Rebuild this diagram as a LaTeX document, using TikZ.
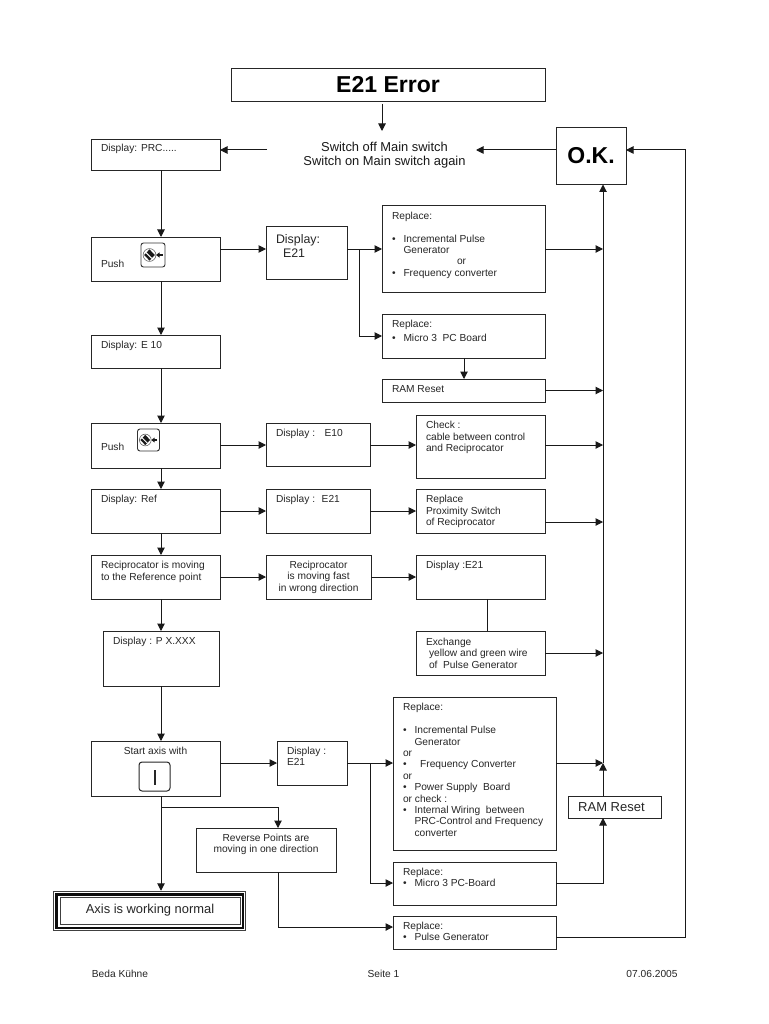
\documentclass[tikz,border=0pt]{standalone}
\usepackage{fontspec}
\setmainfont{Liberation Sans}
\usetikzlibrary{arrows.meta}
\tikzset{
  x=1pt,y=-1pt,
  boxst/.style={draw=black!85,line width=1pt,inner sep=0pt,outer sep=0pt},
  link/.style={draw=black!90,line width=1pt},
  arr/.style={link,-{Triangle[length=7.5pt,width=7.5pt]}},
  plain/.style={inner sep=0pt,font=\fontsize{10.2}{11.4}\selectfont,align=left,text=black!85}
}
% \bx{name}{x1}{y1}{x2}{y2}{left inset}{top inset}{text}
\newcommand{\bx}[8]{%
  \pgfmathsetmacro{\bw}{#4-#2}\pgfmathsetmacro{\bh}{#5-#3}%
  \pgfmathsetmacro{\cx}{(#2+#4)/2}\pgfmathsetmacro{\cy}{(#3+#5)/2}%
  \node[boxst,minimum width=\bw pt,minimum height=\bh pt] (#1) at (\cx,\cy)
    {\parbox[c][\bh pt][t]{\bw pt}{\fontsize{10.2}{11.4}\selectfont\color{black!85}\leftskip=#6pt\parindent=0pt\rightskip=0pt plus 1fil\vspace*{#7pt}#8\par}};}
\newcommand{\dotitem}{\hbox to 11.5pt{•\hss}}
\newcommand{\keyicon}[4]{% name, cx, cy, size
  \node[draw=black!80,line width=0.9pt,rounded corners=2.5pt,minimum size=#4 pt,inner sep=0pt] (#1) at (#2,#3) {};
  \begin{scope}[shift={(#2,#3)},scale=#4/24]
    \draw[black!60,line width=0.6pt] (-3.5,0) circle (6.4);
    \fill[black!90] (-3.5,-5.6) -- (1.8,0) -- (-3.5,5.6) -- (-8.8,0) -- cycle;
    \draw[white,line width=1pt] (-7,-2.4) -- (-1.2,3.4);
    \draw[black!90,line width=1.2pt] (9.5,0) -- (5,0);
    \fill[black!90] (3,0) -- (6.6,-2.7) -- (6.6,2.7) -- cycle;
  \end{scope}}
\begin{document}
\begin{tikzpicture}
\useasboundingbox[fill=white] (0,0) rectangle (768,1024);

% boxes
\node[boxst,minimum width=314pt,minimum height=33pt,font=\fontsize{23}{25}\bfseries\selectfont] (title) at (388,85) {E21 Error};
\node[boxst,minimum width=70pt,minimum height=57pt,font=\fontsize{23}{25}\bfseries\selectfont] (ok) at (591,156) {\raisebox{2pt}{O.K.}};
\node[inner sep=0pt,align=center,text=black!90,font=\fontsize{12.9}{14.2}\selectfont] (sw) at (384.5,155.5) {Switch off Main switch\\Switch on Main switch again};

\bx{prc}{91}{139.5}{220}{170.5}{10}{4.5}{Display: PRC.....}
\bx{push1}{91}{237}{220}{281}{10}{23}{Push}
\bx{d21a}{266}{226.5}{347}{279.5}{10}{8}{\fontsize{12.4}{14}\selectfont Display:\\\hspace*{7pt}E21}
\bx{rep1}{382}{205.5}{545}{292.5}{10}{6.5}{Replace:\\[11.4pt]\dotitem Incremental Pulse\\\hspace*{11.5pt}Generator\\\hspace*{65pt}or\\\dotitem Frequency converter}
\bx{rep2}{382}{314}{545}{358}{10}{6}{Replace:\\[2.5pt]\dotitem Micro 3~ PC Board}
\bx{ram1}{382}{379}{545}{402}{10}{6.5}{RAM Reset}
\bx{e10}{91}{335}{220}{368}{10}{6.5}{Display: E 10}
\bx{push2}{91}{423}{220}{468}{10}{20}{Push}
\bx{de10}{266}{423}{370}{466}{10}{6}{Display :~~ E10}
\bx{check}{416}{415}{545}{478}{10}{6.5}{Check :\\cable between control\\and Reciprocator}
\bx{ref}{91}{489}{220}{533}{10}{6}{Display: Ref}
\bx{de21}{266}{489}{370}{533}{10}{6}{Display :~ E21}
\bx{prox}{416}{489}{545}{533}{10}{6.5}{Replace\\Proximity Switch\\of Reciprocator}
\bx{recip}{91}{555}{220}{599}{10}{6}{Reciprocator is moving\\[1.2pt]to the Reference point}
\node[boxst,minimum width=105pt,minimum height=44pt,font=\fontsize{10.2}{11.4}\selectfont,align=center,text=black!85] (fast) at (318.5,577) {Reciprocator\\is moving fast\\in wrong direction};
\bx{dis}{416}{555}{545}{599}{10}{6}{Display :E21}
\bx{exch}{416}{631}{545}{675}{10}{7}{Exchange\\\hspace*{3pt}yellow and green wire\\\hspace*{3pt}of~ Pulse Generator}
\bx{disp}{103}{631}{219}{686}{10}{6}{Display : P X.XXX}
\node[boxst,minimum width=129pt,minimum height=55pt] (start) at (155.5,768.5) {};
\node[plain,align=center] (starttxt) at (155.5,750.5) {Start axis with};
\bx{d21b}{277}{741}{347}{785}{10}{6}{Display :\\E21}
\bx{repb}{393}{697}{556}{850}{10}{6.5}{Replace:\\[11.4pt]\dotitem Incremental Pulse\\\hspace*{11.5pt}Generator\\or\\\dotitem~ Frequency Converter\\or\\\dotitem Power Supply~ Board\\or check :\\\dotitem Internal Wiring~ between\\\hspace*{11.5pt}PRC-Control and Frequency\\\hspace*{11.5pt}converter}
\bx{micro}{393}{862}{556}{905}{10}{6}{Replace:\\\dotitem Micro 3 PC-Board}
\bx{pulse}{393}{916}{556}{949}{10}{6}{Replace:\\\dotitem Pulse Generator}
\node[boxst,minimum width=93pt,minimum height=22pt] (ram2) at (614.5,807) {};
\node[plain,font=\fontsize{13}{14}\selectfont,anchor=west] (ram2txt) at (578,807.5) {RAM Reset};
\node[boxst,minimum width=140pt,minimum height=44pt] (rev) at (266,850) {};
\node[plain,align=center] (revtxt) at (266,844.5) {Reverse Points are\\moving in one direction};

% triple frame
\node[boxst,draw=none,fill=black!75,minimum width=193.5pt,minimum height=40.5pt] (axo) at (149.5,911) {};
\node[fill=white,minimum width=190.5pt,minimum height=37.5pt,inner sep=0pt] (axa) at (149.5,911) {};
\node[fill=black!95,minimum width=189pt,minimum height=36pt,inner sep=0pt] (axb) at (149.5,911) {};
\node[fill=white,minimum width=184pt,minimum height=31pt,inner sep=0pt] (axc) at (149.5,911) {};
\node[draw=black!75,line width=1pt,fill=white,minimum width=180pt,minimum height=27pt,inner sep=0pt,font=\fontsize{12.9}{14}\selectfont,text=black!85] (axis) at (150,910.5) {\raisebox{-1.5pt}{Axis is working normal}};

% icons
\keyicon{key1}{153}{255}{24}
\keyicon{key2}{148.5}{440}{22}
\node[draw=black!85,line width=1pt,rounded corners=3pt,minimum width=31pt,minimum height=29pt,inner sep=0pt] (ikey) at (154.5,776.5) {};
\draw[line width=2pt,black!85] (ikey.center |- 0,770) -- (ikey.center |- 0,785);

\node[plain] (f1) at (120,974) {Beda Kühne};
\node[plain] (f2) at (383.5,974) {Seite 1};
\node[plain] (f3) at (652,974) {07.06.2005};

% coordinates
\coordinate (busb) at (603,763);
\coordinate (s1) at (382,104);
\coordinate (s2) at (382,131);
\coordinate (swl) at (267,150);
\coordinate (swr) at (476,150);
\coordinate (j1) at (359.5,249);
\coordinate (j2) at (370,763);
\coordinate (jr) at (161,807);

% connectors
\draw[arr] (s1) -- (s2);
\draw[arr] (ok.west |- swr) -- (swr);
\draw[arr] (swl) -- (prc.east |- swl);
\draw[arr] (prc.south -| 161,0) -- (push1.north -| 161,0);
\draw[arr] (push1.south -| 161,0) -- (e10.north -| 161,0);
\draw[arr] (e10.south -| 161,0) -- (push2.north -| 161,0);
\draw[arr] (push2.south -| 161,0) -- (ref.north -| 161,0);
\draw[arr] (ref.south -| 161,0) -- (recip.north -| 161,0);
\draw[arr] (recip.south -| 161,0) -- (disp.north -| 161,0);
\draw[arr] (disp.south -| 161,0) -- (start.north -| 161,0);
\draw[arr] (start.south -| 161,0) -- (axo.north -| 161,0);

\draw[arr] (push1.east |- 0,249) -- (d21a.west |- 0,249);
\draw[arr] (d21a.east |- j1) -- (rep1.west |- j1);
\draw[arr] (j1) |- (rep2.west);
\draw[arr] (rep1.east |- j1) -- (j1 -| busb);
\draw[arr] (rep2.south -| 464,0) -- (ram1.north -| 464,0);
\draw[arr] (ram1.east) -- (ram1.east -| busb);

\draw[arr] (push2.east |- 0,445) -- (de10.west |- 0,445);
\draw[arr] (de10.east |- 0,445) -- (check.west |- 0,445);
\draw[arr] (check.east |- 0,445) -- (busb |- 0,445);
\draw[arr] (ref.east |- 0,511) -- (de21.west |- 0,511);
\draw[arr] (de21.east |- 0,511) -- (prox.west |- 0,511);
\draw[arr] (prox.east |- 0,522) -- (busb |- 0,522);
\draw[arr] (recip.east |- 0,577) -- (fast.west |- 0,577);
\draw[arr] (fast.east |- 0,577) -- (dis.west |- 0,577);
\draw[link] (dis.south -| 487,0) -- (exch.north -| 487,0);
\draw[arr] (exch.east |- 0,653) -- (busb |- 0,653);

\draw[arr] (start.east |- 0,763) -- (d21b.west |- 0,763);
\draw[arr] (d21b.east |- j2) -- (repb.west |- j2);
\draw[arr] (j2) |- (micro.west |- 0,883);
\draw[arr] (repb.east |- busb) -- (busb);
\draw[arr] (ram2.north -| busb) -- (busb);
\draw[arr] (micro.east |- 0,883) -| (ram2.south -| busb);
\draw[arr] (busb) -- (ok.south -| busb);
\draw[arr] (jr) -| (rev.north -| 278,0);
\draw[arr] (rev.south -| 278,0) |- (pulse.west |- 0,927);
\draw[arr] (pulse.east |- 0,937) -| (685,150) -- (ok.east |- 0,150);
\end{tikzpicture}
\end{document}
